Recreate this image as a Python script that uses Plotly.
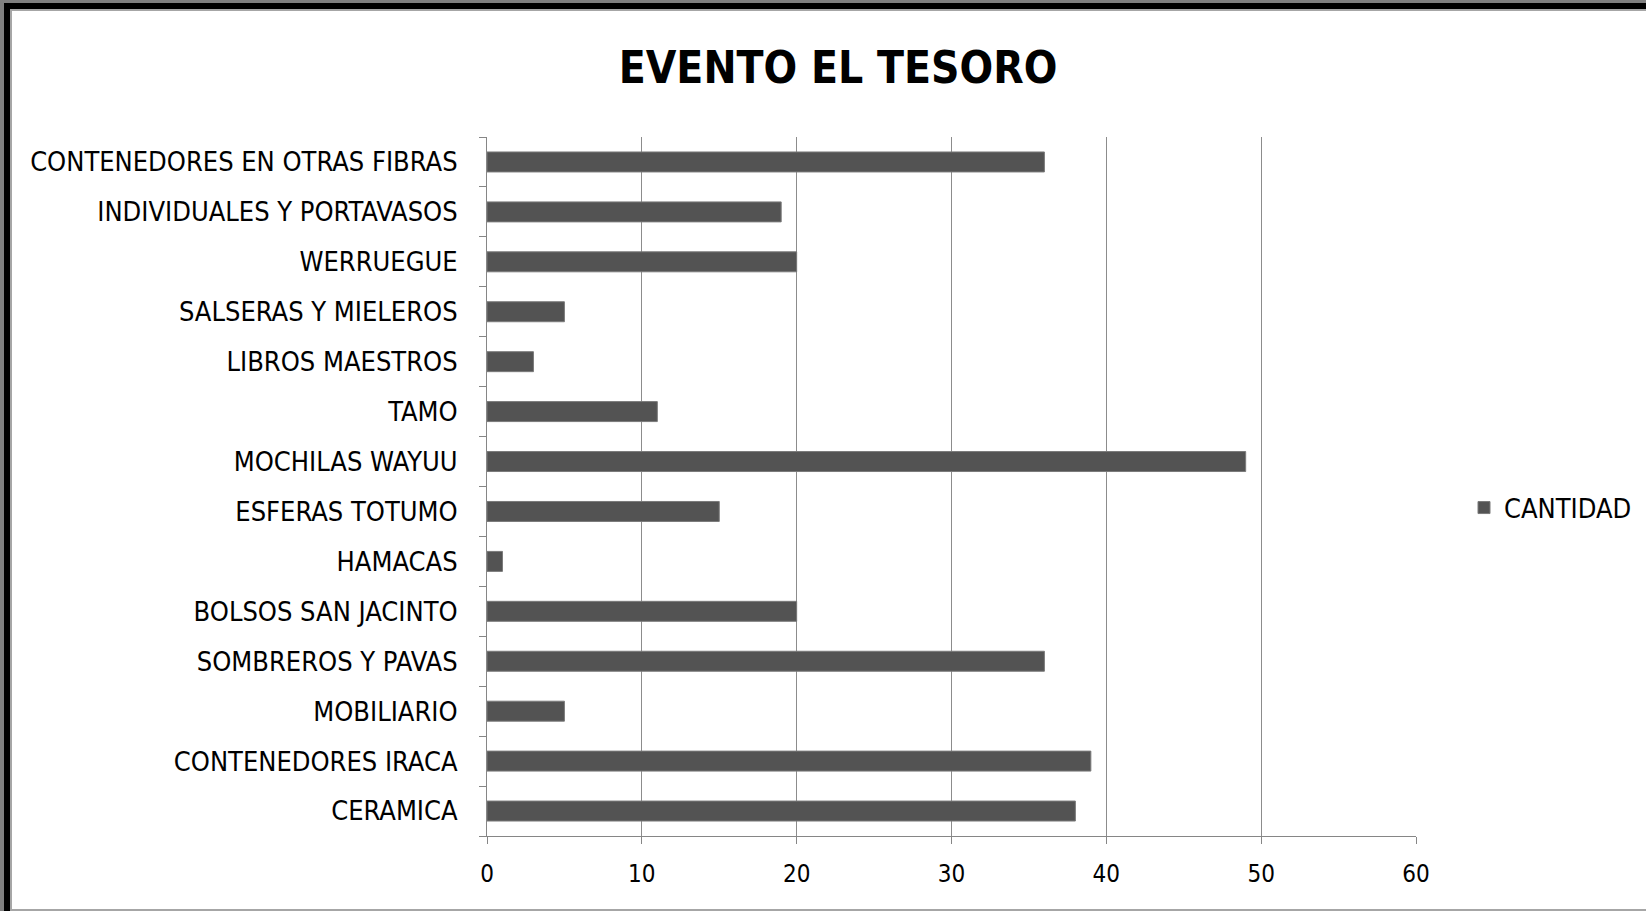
import plotly.graph_objects as go

categories = [
    "CERAMICA", "CONTENEDORES IRACA", "MOBILIARIO", "SOMBREROS Y PAVAS",
    "BOLSOS SAN JACINTO", "HAMACAS", "ESFERAS TOTUMO", "MOCHILAS WAYUU",
    "TAMO", "LIBROS MAESTROS", "SALSERAS Y MIELEROS", "WERRUEGUE",
    "INDIVIDUALES Y PORTAVASOS", "CONTENEDORES EN OTRAS FIBRAS",
]
cantidad = [38, 39, 5, 36, 20, 1, 15, 49, 11, 3, 5, 20, 19, 36]
x_ticks = [0, 10, 20, 30, 40, 50, 60]
series_name = "CANTIDAD"
title_text = "EVENTO EL TESORO"

W, H = 1646, 911
L, R, T, B = 487, 1416, 137, 836
pw, ph = R - L, B - T

def px(x):
    return (x - L) / pw

def py(y):
    return (B - y) / ph

FONT = "DejaVu Sans Condensed, Liberation Sans Narrow, Lato, sans-serif"

fig = go.Figure()
fig.add_trace(go.Bar(
    y=categories, x=cantidad, orientation="h", name=series_name,
    marker=dict(color="#535353", line=dict(color="#7a7a7a", width=1)),
    showlegend=True,
))

shapes = [
    dict(type="rect", xref="paper", yref="paper", layer="below",
         x0=px(-20), x1=px(W + 50), y0=py(-20), y1=py(H + 50),
         fillcolor="#808080", line=dict(width=0)),
    dict(type="rect", xref="paper", yref="paper", layer="below",
         x0=px(4), x1=px(W + 50), y0=py(3), y1=py(H + 50),
         fillcolor="#000000", line=dict(width=0)),
    dict(type="rect", xref="paper", yref="paper", layer="below",
         x0=px(10), x1=px(W + 50), y0=py(9), y1=py(H + 50),
         fillcolor="#a6a6a6", line=dict(width=0)),
    dict(type="rect", xref="paper", yref="paper", layer="below",
         x0=px(12), x1=px(W + 50), y0=py(11), y1=py(909),
         fillcolor="#ffffff", line=dict(width=0)),
]

fig.update_layout(
    width=W, height=H,
    margin=dict(l=L, r=W - R, t=T, b=H - B, autoexpand=False),
    paper_bgcolor="#ffffff",
    plot_bgcolor="rgba(0,0,0,0)",
    shapes=shapes,
    bargap=0.6,
    title=dict(text=title_text, x=838 / W, xanchor="center",
               y=1 - 68 / H, yanchor="middle", yref="container",
               font=dict(family=FONT, size=44, color="#000000", weight="bold")),
    legend=dict(x=px(1464), y=py(508), xanchor="left", yanchor="middle",
                font=dict(family=FONT, size=27, color="#000000"),
                bgcolor="rgba(0,0,0,0)"),
    font=dict(family=FONT, size=27, color="#000000"),
)
fig.update_xaxes(
    range=[0, 60], tickvals=x_ticks, showgrid=True, gridcolor="#8c8c8c", gridwidth=1,
    showline=True, linecolor="#868686", linewidth=1, zeroline=False,
    ticks="outside", ticklen=7, tickcolor="#868686", ticklabelstandoff=9,
    tickfont=dict(family=FONT, size=24, color="#000000"),
)
fig.update_yaxes(
    categoryorder="array", categoryarray=categories,
    showline=True, linecolor="#868686", linewidth=1,
    ticks="outside", ticklen=7, tickcolor="#868686", tickson="boundaries",
    ticklabelstandoff=23,
    showgrid=False,
    tickfont=dict(family=FONT, size=27, color="#000000"),
)

fig.write_html(
    "out.html",
    config={"displayModeBar": False},
    post_script=(
        "document.body.style.margin='0';"
        "document.body.style.overflow='hidden';"
        "document.documentElement.style.overflow='hidden';"
        "document.documentElement.style.background='#ffffff';"
    ),
)
